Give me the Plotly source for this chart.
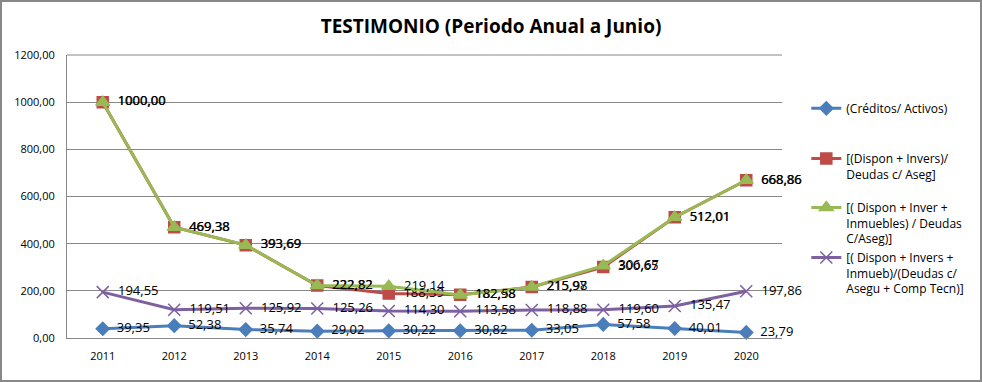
import plotly.graph_objects as go

years = ["2011", "2012", "2013", "2014", "2015", "2016", "2017", "2018", "2019", "2020"]
creditos = [39.35, 52.38, 35.74, 29.02, 30.22, 30.82, 33.05, 57.58, 40.01, 23.79]
dispon_invers = [1000.00, 469.38, 393.69, 222.82, 188.39, 182.98, 215.97, 300.65, 512.01, 668.86]
dispon_inmuebles = [1000.00, 469.38, 393.69, 222.82, 219.14, 182.58, 215.98, 306.67, 512.01, 668.86]
dispon_comp_tecn = [194.55, 119.51, 125.92, 125.26, 114.30, 113.58, 118.88, 119.60, 135.47, 197.86]

names = [
    "(Créditos/ Activos)",
    "[(Dispon + Invers)/<br>Deudas c/ Aseg]",
    "[( Dispon + Inver +<br>Inmuebles) / Deudas<br>C/Aseg)]",
    "[( Dispon + Invers +<br>Inmueb)/(Deudas c/<br>Asegu + Comp Tecn)]",
]
colors = ["#4A7EBB", "#BE4B48", "#98B954", "#7D60A0"]
symbols = ["diamond", "square", "triangle-up", "x-thin"]
sizes = [10, 11, 12, 12]
series = [creditos, dispon_invers, dispon_inmuebles, dispon_comp_tecn]
legend_ids = ["legend", "legend2", "legend3", "legend4"]
legend_y = [0.862, 0.685, 0.512, 0.335]

W, H = 982, 382
ml, mr, mt, mb = 67, 200, 55, 44

fig = go.Figure()
for name, vals, c, s, sz, lg in zip(names, series, colors, symbols, sizes, legend_ids):
    fig.add_trace(go.Scatter(
        x=years, y=vals, name=name, mode="lines+markers+text",
        line=dict(color=c, width=3),
        marker=dict(symbol=s, size=sz, color=c, line=dict(color=c, width=1.5)),
        text=["  " + f"{v:.2f}".replace(".", ",") for v in vals],
        textposition="middle right",
        textfont=dict(family="Open Sans", size=13, color="#000000"),
        cliponaxis=False,
        legend=lg,
    ))

pw = W - ml - mr
ph = H - mt - mb
legend_common = dict(x=1.034, xanchor="left", yanchor="top", valign="top",
                     font=dict(family="Open Sans", size=12, color="#000000"),
                     itemwidth=30, bgcolor="rgba(0,0,0,0)")
layout_legends = {}
for lg, ly in zip(legend_ids, legend_y):
    layout_legends[lg] = dict(legend_common, y=ly)

fig.update_layout(
    width=W, height=H,
    margin=dict(l=ml, r=mr, t=mt, b=mb, autoexpand=False),
    paper_bgcolor="white", plot_bgcolor="white",
    separators=",.",
    title=dict(text="<b>TESTIMONIO (Periodo Anual a Junio)</b>", x=0.5, xanchor="center",
               y=0.93, yanchor="middle",
               font=dict(family="Open Sans", size=19, color="#000000")),
    xaxis=dict(type="category", showgrid=False, showline=True, linecolor="#888888",
               ticks="", tickfont=dict(family="Open Sans", size=11, color="#000000"),
               range=[-0.5, 9.5], ticklabelstandoff=8, automargin=False),
    yaxis=dict(range=[0, 1200], dtick=200, tickformat=".2f", showgrid=True,
               gridcolor="#888888", gridwidth=1, showline=True, linecolor="#888888",
               zeroline=False, ticks="", automargin=False, ticklabelstandoff=9,
               tickfont=dict(family="Open Sans", size=11, color="#000000")),
    showlegend=True,
    **layout_legends,
)
fig.add_shape(type="line", xref="paper", yref="paper", x0=0, x1=1, y0=1, y1=1,
              line=dict(color="#888888", width=1))
fig.add_shape(type="rect", xref="paper", yref="paper",
              x0=-(ml - 1) / pw, x1=1 + (mr - 1) / pw,
              y0=-(mb - 1) / ph, y1=1 + (mt - 1) / ph,
              line=dict(color="#888888", width=2))
fig.write_html("out.html", config={"displayModeBar": False},
               post_script="document.body.style.margin='0px';document.body.style.overflow='hidden';")
